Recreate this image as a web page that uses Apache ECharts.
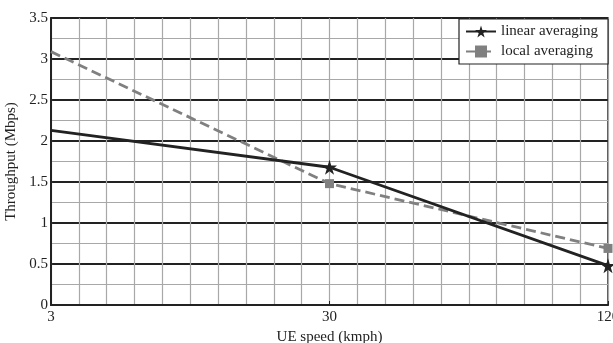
<!DOCTYPE html>
<html>
<head>
<meta charset="utf-8">
<script src="https://cdn.jsdelivr.net/npm/echarts@6/dist/echarts.min.js"></script>
<style>
  html, body { margin: 0; padding: 0; background: #fff; }
  #chart { width: 613px; height: 343px; }
</style>
</head>
<body>
<div id="chart"></div>
<script>
// UE speeds are placed evenly, one slot each
const speeds = ["3", "30", "120"];
const linearAvg = [2.13, 1.68, 0.48];
const localAvg = [3.09, 1.48, 0.69];

const font = "Liberation Serif";
const star = "path://M50,0 L61,35 L98,35 L68,57 L79,91 L50,70 L21,91 L32,57 L2,35 L39,35 Z";

// first point has no marker in the original figure
const toPoints = arr => arr.map((v, i) => i === 0 ? { value: [i, v], symbol: "none" } : [i, v]);

const option = {
  animation: false,
  backgroundColor: "#fff",
  grid: {
    left: 51, right: 5, top: 18, bottom: 38,
    outerBoundsMode: "none",
    show: true, borderColor: "#222", borderWidth: 1.5
  },
  legend: {
    left: 459, top: 19,
    orient: "vertical",
    backgroundColor: "#fff",
    borderColor: "#222", borderWidth: 1.2, borderRadius: 0,
    padding: [5, 10, 5, 6],
    itemGap: 5,
    itemWidth: 30, itemHeight: 15,
    textStyle: { fontFamily: font, fontSize: 15, color: "#222" },
    data: ["linear averaging", "local averaging"]
  },
  xAxis: {
    type: "value",
    min: 0, max: 2, interval: 1,
    name: "UE speed (kmph)",
    nameLocation: "middle", nameGap: 23,
    nameTextStyle: { fontFamily: font, fontSize: 15, color: "#222" },
    axisLine: { lineStyle: { color: "#222", width: 2 } },
    axisTick: { inside: true, length: 4, lineStyle: { color: "#222" } },
    axisLabel: {
      fontFamily: font, fontSize: 15, color: "#222", margin: 5,
      formatter: v => speeds[Math.round(v)] || ""
    },
    splitLine: { show: true, lineStyle: { color: "#a8a8a8", width: 1.2 } },
    minorTick: { show: false, splitNumber: 10 },
    minorSplitLine: { show: true, lineStyle: { color: "#a8a8a8", width: 1.2 } }
  },
  yAxis: {
    type: "value",
    min: 0, max: 3.5, interval: 0.5,
    name: "Throughput (Mbps)",
    nameLocation: "middle", nameGap: 29,
    nameTextStyle: { fontFamily: font, fontSize: 15, color: "#222" },
    axisLine: { show: true, lineStyle: { color: "#222", width: 2 } },
    axisTick: { show: false },
    axisLabel: { fontFamily: font, fontSize: 15, color: "#222", margin: 3 },
    splitLine: { show: true, lineStyle: { color: "#222", width: 2 } },
    minorTick: { show: false, splitNumber: 2 },
    minorSplitLine: { show: true, lineStyle: { color: "#a8a8a8", width: 1.2 } }
  },
  series: [
    {
      name: "linear averaging",
      type: "line",
      data: toPoints(linearAvg),
      symbol: star,
      symbolSize: 15,
      lineStyle: { color: "#222", width: 2.8 },
      itemStyle: { color: "#222" },
      z: 3
    },
    {
      name: "local averaging",
      type: "line",
      data: toPoints(localAvg),
      symbol: "rect",
      symbolSize: 9,
      lineStyle: { color: "#808080", width: 2.8, type: [10, 5] },
      itemStyle: { color: "#808080" },
      z: 2
    }
  ]
};

const chart = echarts.init(document.getElementById("chart"));
chart.setOption(option);
</script>
</body>
</html>
